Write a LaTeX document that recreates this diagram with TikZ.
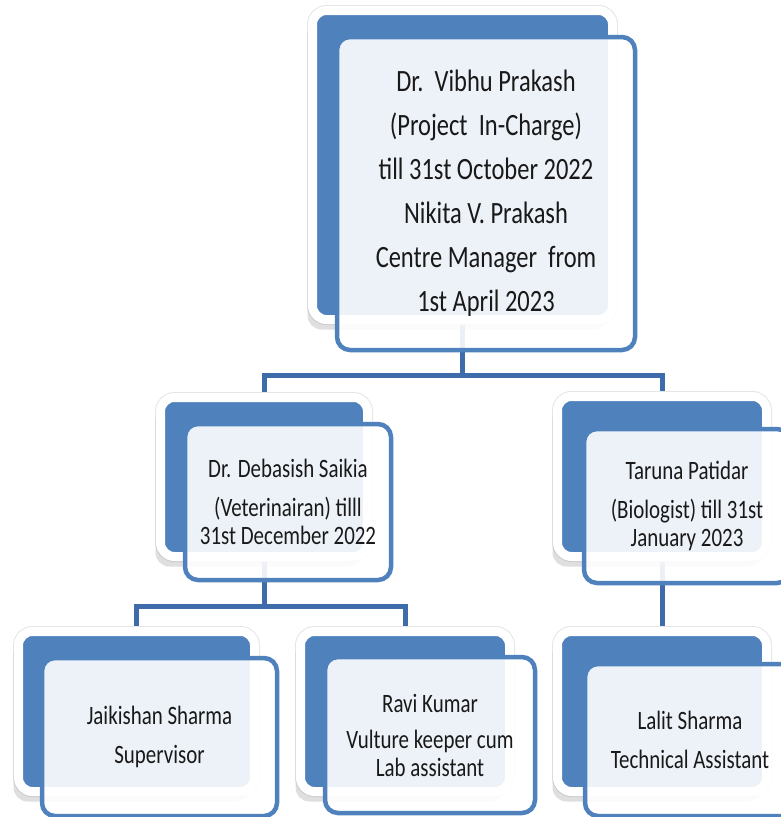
\documentclass[tikz,border=0pt]{standalone}
\usepackage{fontspec}
\usetikzlibrary{shadows,backgrounds}
\newfontfamily\cardfont[FakeStretch=0.79]{Carlito}
\definecolor{cardblue}{RGB}{79,129,189}
\definecolor{linkblue}{RGB}{62,108,170}
\tikzstyle{backcard}=[rectangle,rounded corners=14pt,fill=cardblue,draw=white,line width=9pt,inner sep=0pt,
    preaction={draw=black!10,line width=11pt},
    drop shadow={shadow xshift=-5pt,shadow yshift=-10pt,opacity=0.25}]
\tikzstyle{frontcard}=[rectangle,rounded corners=13pt,draw=cardblue,line width=4.5pt,fill=white,fill opacity=0.9,text opacity=1,inner sep=0pt,align=center,text=black!90]
\tikzstyle{bigtext}=[font={\cardfont\fontsize{31}{44}\selectfont}]
\tikzstyle{smalltext}=[font={\cardfont\fontsize{26.5}{28}\selectfont}]
\tikzstyle{link}=[draw,line width=5pt,linkblue]

\begin{document}
\begin{tikzpicture}[x=1pt,y=-1pt]

    \useasboundingbox (0,0) rectangle (781,817);
    \clip (0,0) rectangle (781,817);

    % blue cards at the back
    \foreach \name/\x/\y/\w/\h in {top/462.5/165/300/309, deb/264/477/207/159, tar/662/476.5/209/160,
                                   jai/136.5/711.5/236/160, ravi/405/711.5/209/160, lal/662/711.5/209/160}
        \node[backcard, minimum width=\w pt, minimum height=\h pt] (\name) at (\x,\y) {};

    % white cards in front
    \node[frontcard, bigtext, minimum width=298pt, minimum height=313pt] (topf) at (486,193.5)
        {Dr.\ \ Vibhu Prakash\\(Project\ \ In-Charge)\\till 31st October 2022\\Nikita V. Prakash\\Centre Manager\ \ from\\1st April 2023};

    \foreach \name/\x/\y/\w/\h/\txt in {debf/288/502/206/156/{Dr. Debasish Saikia\\[11pt](Veterinairan) tilll\\31st December 2022},
                                        tarf/687/506/206/154/{Taruna Patidar\\[11pt](Biologist) till 31st\\January 2023},
                                        jaif/159.5/737/235/158/{Jaikishan Sharma\\[11pt]Supervisor},
                                        ravif/430/735/210/156/{Ravi Kumar\\[8pt]Vulture keeper cum\\Lab assistant},
                                        lalf/690/740/210/152/{Lalit Sharma\\[11pt]Technical Assistant}}
        \node[frontcard, smalltext, minimum width=\w pt, minimum height=\h pt] (\name) at (\x,\y) {\txt};

    % connectors
    \begin{pgfonlayer}{background}
        \coordinate (bus1) at (462.5,375);
        \coordinate (bus2) at (264,606);
        \path[link] (top) -- (top |- bus1) -| (deb);
        \path[link] (top |- bus1) -| (tar);
        \path[link] (deb) -- (deb |- bus2) -| (jai);
        \path[link] (deb |- bus2) -| (ravi);
        \path[link] (tar) -- (lal);
    \end{pgfonlayer}

\end{tikzpicture}
\end{document}
